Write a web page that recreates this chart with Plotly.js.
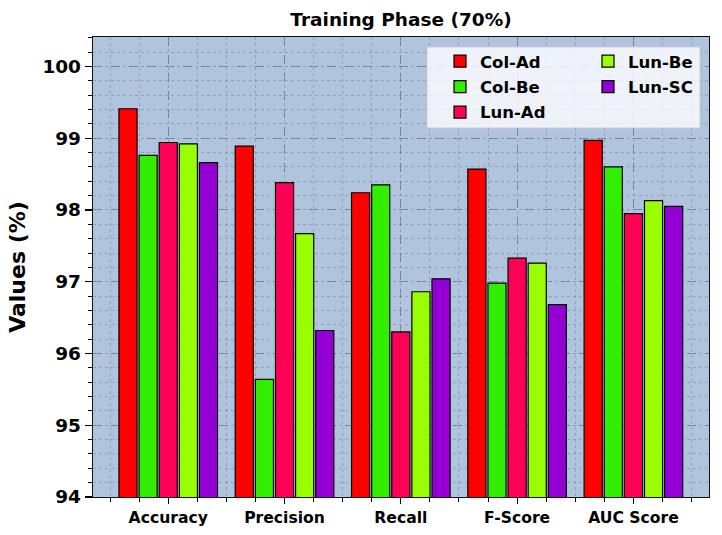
<!DOCTYPE html>
<html>
<head>
<meta charset="utf-8">
<script src="https://cdn.plot.ly/plotly-3.0.1.min.js"></script>
<style>html,body{margin:0;padding:0;background:#fff;}#chart{width:722px;height:535px;}</style>
</head>
<body>
<div id="chart"></div>
<script>
const categories = ["Accuracy", "Precision", "Recall", "F-Score", "AUC Score"];
const seriesNames = ["Col-Ad", "Col-Be", "Lun-Ad", "Lun-Be", "Lun-SC"];
const colAd = [99.41, 98.89, 98.24, 98.57, 98.97];
const colBe = [98.76, 95.64, 98.35, 96.98, 98.60];
const lunAd = [98.94, 98.38, 96.30, 97.33, 97.95];
const lunBe = [98.92, 97.67, 96.86, 97.26, 98.13];
const lunSC = [98.66, 96.32, 97.04, 96.68, 98.05];
const yTicks = [94, 95, 96, 97, 98, 99, 100];

const values = [colAd, colBe, lunAd, lunBe, lunSC];
const colors = ["#ff0000", "#33ee00", "#ff0055", "#99ff00", "#9400d3"];
const legendIds = ["legend", "legend", "legend", "legend2", "legend2"];
const xPos = categories.map((c, i) => i);
const FONT = "DejaVu Sans";

const traces = seriesNames.map((name, i) => ({
  type: "bar",
  name: name,
  x: xPos,
  y: values[i],
  legend: legendIds[i],
  legendgroup: name,
  marker: { color: colors[i], line: { color: "#000", width: 1.2 } },
  hoverinfo: "name+y",
  cliponaxis: true
}));

const legendFont = { family: FONT, size: 16.5, weight: "bold", color: "#000" };

const layout = {
  width: 722,
  height: 535,
  margin: { l: 93, r: 13, t: 37, b: 38 },
  paper_bgcolor: "#ffffff",
  plot_bgcolor: "#b0c4de",
  barmode: "group",
  bargap: 0.135,
  bargroupgap: 0.1,
  showlegend: true,
  title: {
    text: "Training Phase (70%)",
    font: { family: FONT, size: 18.5, weight: "bold", color: "#000" },
    x: 0.5, xref: "paper", xanchor: "center",
    y: 1 - 20 / 535, yref: "container", yanchor: "middle"
  },
  xaxis: {
    type: "linear",
    range: [-0.647, 4.65],
    tickmode: "array",
    tickvals: xPos,
    ticktext: categories,
    tickfont: { family: FONT, size: 15.6, weight: "bold", color: "#000" },
    ticks: "outside",
    ticklen: 6,
    tickwidth: 1.2,
    tickcolor: "#000",
    showline: true,
    mirror: true,
    linecolor: "#111",
    linewidth: 1.3,
    showgrid: true,
    gridcolor: "rgba(90,100,125,0.55)",
    griddash: "dash",
    gridwidth: 1,
    zeroline: false,
    minor: {
      tickmode: "linear", tick0: 0, dtick: 0.25,
      ticks: "outside", ticklen: 4, tickcolor: "#000", tickwidth: 1,
      showgrid: true, gridcolor: "rgba(110,120,145,0.45)", griddash: "dot", gridwidth: 1
    }
  },
  yaxis: {
    range: [94, 100.41],
    tickmode: "array",
    tickvals: yTicks,
    ticktext: yTicks.map(String),
    tickfont: { family: FONT, size: 18.5, weight: "bold", color: "#000" },
    ticks: "outside",
    ticklen: 7,
    tickwidth: 1.2,
    tickcolor: "#000",
    showline: true,
    mirror: true,
    linecolor: "#111",
    linewidth: 1.3,
    showgrid: true,
    gridcolor: "rgba(90,100,125,0.55)",
    griddash: "dash",
    gridwidth: 1,
    zeroline: false,
    title: {
      text: "Values (%)",
      font: { family: FONT, size: 22, weight: "bold", color: "#000" },
      standoff: 10
    },
    minor: {
      tickmode: "linear", tick0: 94, dtick: 0.2,
      ticks: "outside", ticklen: 4, tickcolor: "#000", tickwidth: 1,
      showgrid: true, gridcolor: "rgba(110,120,145,0.45)", griddash: "dot", gridwidth: 1
    }
  },
  legend: {
    x: (440 - 93) / 616, y: 0.985, xanchor: "left", yanchor: "top",
    xref: "paper", yref: "paper",
    bgcolor: "rgba(0,0,0,0)", borderwidth: 0,
    font: legendFont, traceorder: "grouped", tracegroupgap: 1,
    itemclick: false, itemdoubleclick: false
  },
  legend2: {
    x: (588 - 93) / 616, y: 0.985, xanchor: "left", yanchor: "top",
    xref: "paper", yref: "paper",
    bgcolor: "rgba(0,0,0,0)", borderwidth: 0,
    font: legendFont, traceorder: "grouped", tracegroupgap: 1,
    itemclick: false, itemdoubleclick: false
  },
  shapes: [{
    type: "rect", xref: "paper", yref: "paper",
    x0: (427 - 93) / 616, x1: (700 - 93) / 616,
    y0: (497.3 - 128) / 460.3, y1: (497.3 - 47) / 460.3,
    fillcolor: "rgba(255,255,255,0.8)",
    line: { color: "rgba(204,204,204,0.9)", width: 1 },
    layer: "above"
  }]
};

Plotly.newPlot("chart", traces, layout, { displayModeBar: false, staticPlot: true });
</script>
</body>
</html>
